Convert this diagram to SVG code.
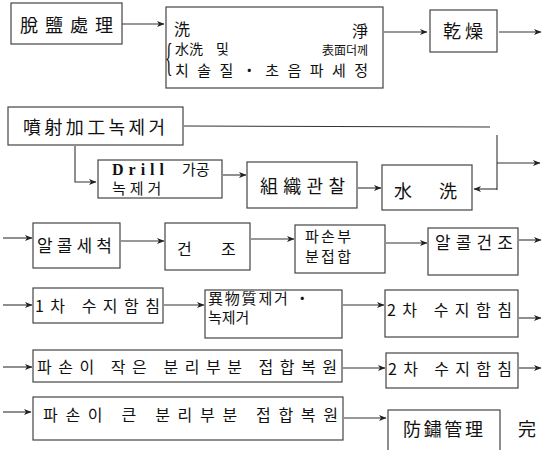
<svg xmlns="http://www.w3.org/2000/svg" width="548" height="450" viewBox="0 0 548 450">
<defs>
<marker id="a" markerWidth="8" markerHeight="7" refX="7" refY="3.5" orient="auto" markerUnits="userSpaceOnUse">
<path d="M0,0.5 L7.5,3.5 L0,6.5 L2,3.5 z" fill="#222"/>
</marker>
</defs>
<style>
rect{fill:none;stroke:#444;stroke-width:1.2}
.c line,.c path{stroke:#333;stroke-width:1.1;fill:none}
.ar{marker-end:url(#a)}
text{font-family:"Noto Sans CJK KR","Noto Sans CJK JP",sans-serif;fill:#111;font-size:16px}
.lg{font-size:18px}
.lat{font-family:"Liberation Serif","Noto Sans CJK KR",serif}
</style>
<rect x="0" y="0" width="548" height="450" style="fill:#fff;stroke:none"/>
<g class="c" id="connectors">
<line class="ar" x1="122" y1="24" x2="164" y2="24"/>
<line class="ar" x1="384" y1="32" x2="427" y2="32"/>
<line class="ar" x1="499" y1="32" x2="541" y2="32"/>
<line x1="184" y1="126" x2="490" y2="127"/>
<path class="ar" d="M75,146 V182 H96"/>
<line x1="497" y1="135" x2="497" y2="190"/>
<line class="ar" x1="497" y1="163" x2="540" y2="163"/>
<line class="ar" x1="497" y1="189" x2="474" y2="189"/>
<line class="ar" x1="223" y1="175" x2="246" y2="175"/>
<line class="ar" x1="358" y1="188" x2="381" y2="188"/>
<line class="ar" x1="3" y1="238" x2="32" y2="238"/>
<line class="ar" x1="121" y1="241" x2="164" y2="241"/>
<line class="ar" x1="251" y1="239" x2="294" y2="239"/>
<line class="ar" x1="386" y1="243" x2="427" y2="243"/>
<line class="ar" x1="519" y1="240" x2="541" y2="240"/>
<line class="ar" x1="3" y1="305" x2="32" y2="305"/>
<line class="ar" x1="164" y1="305" x2="204" y2="305"/>
<line class="ar" x1="343" y1="305" x2="384" y2="305"/>
<line class="ar" x1="519" y1="318" x2="541" y2="318"/>
<line class="ar" x1="3" y1="367" x2="32" y2="367"/>
<line class="ar" x1="343" y1="368" x2="385" y2="368"/>
<line class="ar" x1="519" y1="368" x2="541" y2="368"/>
<line class="ar" x1="3" y1="412" x2="31" y2="412"/>
<line class="ar" x1="344" y1="418" x2="386" y2="418"/>
</g>
<g id="n1"><rect x="11" y="3" width="111" height="41"/><text class="lg" x="20" y="32" textLength="93" lengthAdjust="spacing">脫鹽處理</text></g>
<g id="n2"><rect x="166" y="7" width="217" height="81"/>
<text x="174" y="35">洗</text><text x="352" y="37">淨</text>
<text class="lat" transform="translate(165,71) scale(0.42,1.05)" style="font-size:38px">{</text>
<text x="175" y="54" style="font-size:14px">水洗</text>
<text x="216" y="54" style="font-size:14px">및</text>
<text x="322" y="55" textLength="46" lengthAdjust="spacing" style="font-size:12px">表面더께</text>
<text x="175" y="76" textLength="193" lengthAdjust="spacing" style="font-size:15px">치솔질・초음파세정</text></g>
<g id="n3"><rect x="430" y="10" width="67" height="42"/><text class="lg" x="443" y="38" textLength="40" lengthAdjust="spacing">乾燥</text></g>
<g id="n4"><rect x="8" y="107" width="175" height="38"/><text class="lg" x="23" y="134" textLength="142" lengthAdjust="spacing">噴射加工녹제거</text></g>
<g id="n5"><rect x="98" y="160" width="124" height="38"/><text x="112" y="175"><tspan class="lat" style="font-size:16px;font-weight:bold" letter-spacing="5">Drill</tspan><tspan dx="13" style="font-size:15px">가공</tspan><tspan x="112" dy="19" letter-spacing="4" style="font-size:15px">녹제거</tspan></text></g>
<g id="n6"><rect x="247" y="162" width="110" height="46"/><text class="lg" x="260" y="193" textLength="85" lengthAdjust="spacing">組織관찰</text></g>
<g id="n7"><rect x="382" y="165" width="90" height="45"/><text class="lg" x="394" y="198">水</text><text class="lg" x="439" y="198">洗</text></g>
<g id="n8"><rect x="33" y="223" width="87" height="45"/><text x="37" y="252" textLength="75" lengthAdjust="spacing" style="font-size:17px">알콜세척</text></g>
<g id="n9"><rect x="165" y="223" width="85" height="47"/><text x="177" y="255">건</text><text x="221" y="255">조</text></g>
<g id="n10"><rect x="295" y="225" width="90" height="48"/><text x="305" y="242" textLength="46" lengthAdjust="spacing" style="font-size:15px">파손부</text><text x="305" y="262" textLength="46" lengthAdjust="spacing" style="font-size:15px">분접합</text></g>
<g id="n11"><rect x="428" y="228" width="90" height="47"/><text x="435" y="249" textLength="78" lengthAdjust="spacing" style="font-size:17px">알콜건조</text></g>
<g id="n12"><rect x="33" y="288" width="130" height="35"/><text x="35" y="312" textLength="125" lengthAdjust="spacing">1차 수지함침</text></g>
<g id="n13"><rect x="205" y="290" width="137" height="48"/><text x="208" y="304"><tspan letter-spacing="1.8" style="font-size:15px">異物質제거 ・</tspan><tspan x="208" dy="19" style="font-size:15px">녹제거</tspan></text></g>
<g id="n14"><rect x="385" y="290" width="133" height="47"/><text x="387" y="316" textLength="125" lengthAdjust="spacing">2차 수지함침</text></g>
<g id="n15"><rect x="33" y="350" width="309" height="32"/><text x="37" y="373" textLength="300" lengthAdjust="spacing">파손이 작은 분리부분 접합복원</text></g>
<g id="n16"><rect x="386" y="353" width="132" height="35"/><text x="388" y="375" textLength="124" lengthAdjust="spacing">2차 수지함침</text></g>
<g id="n17"><rect x="33" y="397" width="310" height="43"/><text x="43" y="421" textLength="295" lengthAdjust="spacing">파손이 큰 분리부분 접합복원</text></g>
<g id="n18"><rect x="388" y="410" width="112" height="45"/><text class="lg" x="403" y="436" textLength="80" lengthAdjust="spacing">防鏽管理</text></g>
<g id="n19"><text class="lg" x="518" y="436">完</text></g>
</svg>
